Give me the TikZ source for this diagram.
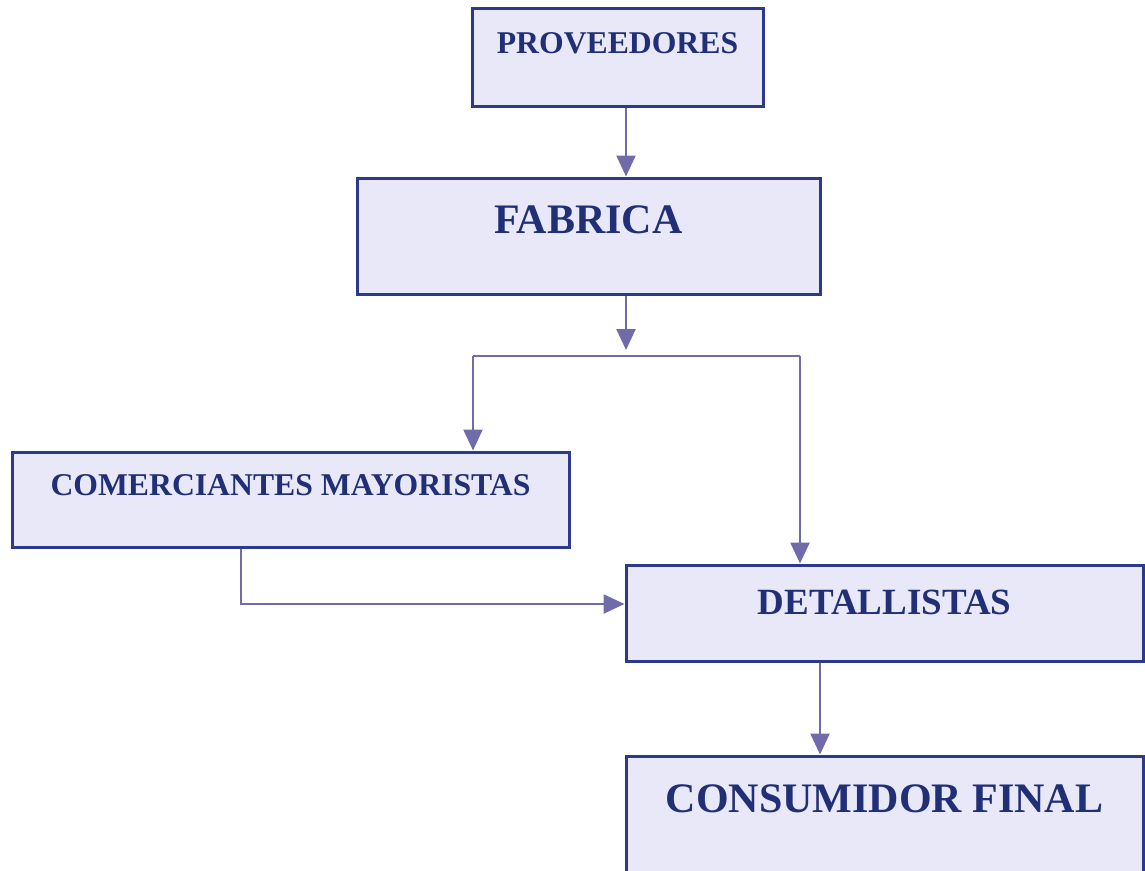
\documentclass[tikz,border=0pt]{standalone}
\usepackage{fontspec}
\setmainfont{Liberation Serif}
\usetikzlibrary{arrows.meta}
\definecolor{relleno}{RGB}{232,232,248}
\definecolor{borde}{RGB}{45,58,140}
\definecolor{letra}{RGB}{33,48,118}
\definecolor{guia}{RGB}{112,108,170}
\begin{document}
\begin{tikzpicture}[x=1pt,y=-1pt,
    caja/.style={rectangle,draw=borde,fill=relleno,line width=3pt,
      inner sep=0pt,anchor=base,text=letra,font=\bfseries},
    flecha/.style={draw=guia,line width=2.5pt,-{Triangle[width=19pt,length=21pt]}},
    linea/.style={draw=guia,line width=2.5pt}]

        \useasboundingbox (0,0) rectangle (1145,870);

        \begin{scope}[every node/.style={caja}]
          \node (prov) at (617.5,53.5) [minimum width=291pt,text height=45.5pt,text depth=52.5pt]
            {\fontsize{31.7}{36}\selectfont PROVEEDORES};
          \node (fab)  at (588.5,233)  [minimum width=463pt,text height=55pt,text depth=61pt]
            {\fontsize{42}{48}\selectfont FABRICA};
          \node (com)  at (290.5,495)  [minimum width=557pt,text height=43pt,text depth=52pt]
            {\fontsize{31.7}{36}\selectfont COMERCIANTES MAYORISTAS};
          \node (det)  at (884.5,614)  [minimum width=517pt,text height=49pt,text depth=47pt]
            {\fontsize{37}{42}\selectfont DETALLISTAS};
          \node (cons) at (884.5,812)  [minimum width=517pt,text height=56pt,text depth=68pt]
            {\fontsize{42}{48}\selectfont CONSUMIDOR FINAL};
        \end{scope}

        \coordinate (baja) at (626,296);
        \coordinate (tope) at (626,350);
        \coordinate (ri)   at (473,356);
        \coordinate (rd)   at (800,356);
        \coordinate (codo) at (241,604);

        \path (prov.south) ++(8.5,0) coordinate (sale);
        \path (sale) edge[flecha] (sale |- fab.north);
        \path (baja) edge[flecha] (tope);
        \path (ri) edge[linea] (rd);
        \path (ri) edge[flecha] (ri |- com.north);
        \path (rd) edge[flecha] (rd |- det.north);
        \draw[flecha] (com.south -| codo) -- (codo) -- (codo -| det.west);
        \path (det.south -| 820,0) coordinate (baja2);
        \path (baja2) edge[flecha] (baja2 |- cons.north);

      \end{tikzpicture}
\end{document}
